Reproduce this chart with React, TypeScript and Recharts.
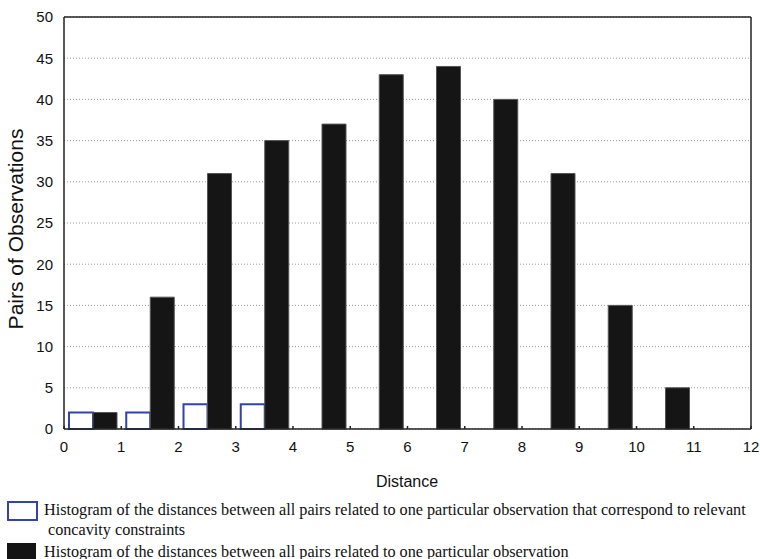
import { BarChart, Bar, XAxis, YAxis, CartesianGrid, Label } from 'recharts';

const binCenters = [0.5, 1.5, 2.5, 3.5, 4.5, 5.5, 6.5, 7.5, 8.5, 9.5, 10.5, 11.5];
const constrainedCounts = [2, 2, 3, 3, 0, 0, 0, 0, 0, 0, 0, 0];
const allCounts = [2, 16, 31, 35, 37, 43, 44, 40, 31, 15, 5, 0];
const xTicks = [0, 1, 2, 3, 4, 5, 6, 7, 8, 9, 10, 11, 12];
const yTicks = [0, 5, 10, 15, 20, 25, 30, 35, 40, 45, 50];

const LEGEND_1 =
  'Histogram of the distances between all pairs related to one particular observation that correspond to relevant';
const LEGEND_1B = 'concavity constraints';
const LEGEND_2 = 'Histogram of the distances between all pairs related to one particular observation';

const data = binCenters.map((x, i) => ({
  x,
  constrained: constrainedCounts[i],
  all: allCounts[i],
}));

const SANS = 'Liberation Sans, Arial, sans-serif';
const SERIF = 'Liberation Serif, Times New Roman, serif';
const AXIS = '#222';

export default function App() {
  return (
    <div style={{ position: 'absolute', left: 0, top: 0, width: 760, height: 559, background: '#fff' }}>
      <BarChart
        width={760}
        height={559}
        data={data}
        barGap={0}
        margin={{ top: 0, right: 0, left: 0, bottom: 0 }}
      >
        <CartesianGrid vertical={false} stroke="#999" strokeDasharray="1 2" />
        <XAxis
          dataKey="x"
          type="number"
          domain={[0, 12]}
          ticks={xTicks}
          interval={0}
          height={130}
          stroke={AXIS}
          strokeWidth={1.5}
          tickSize={-3}
          tickMargin={15}
          tick={{ fontSize: 15, fill: '#111', fontFamily: SANS }}
        >
          <Label
            content={() => (
              <text x={407} y={487} textAnchor="middle" fontSize={16} fill="#111" fontFamily={SANS}>
                Distance
              </text>
            )}
          />
        </XAxis>
        <XAxis
          xAxisId="top"
          orientation="top"
          dataKey="x"
          type="number"
          domain={[0, 12]}
          ticks={xTicks}
          interval={0}
          height={17}
          stroke={AXIS}
          strokeWidth={1.5}
          tickSize={-3}
          tick={false}
        />
        <YAxis
          domain={[0, 50]}
          ticks={yTicks}
          interval={0}
          width={64}
          stroke={AXIS}
          strokeWidth={1.5}
          tickLine={false}
          tickSize={6}
          tickMargin={5}
          tick={{ fontSize: 15, fill: '#111', fontFamily: SANS }}
        >
          <Label
            content={() => (
              <text
                x={15}
                y={229}
                transform="rotate(-90 15 229)"
                textAnchor="middle"
                dominantBaseline="central"
                fontSize={21}
                fill="#111"
                fontFamily={SANS}
              >
                Pairs of Observations
              </text>
            )}
          />
        </YAxis>
        <YAxis
          yAxisId="right"
          orientation="right"
          dataKey="all"
          domain={[0, 50]}
          allowDataOverflow
          ticks={yTicks}
          interval={0}
          width={9}
          stroke={AXIS}
          strokeWidth={1.5}
          tickSize={-3}
          tick={false}
        />
        <Bar
          dataKey="constrained"
          barSize={24}
          fill="#fff"
          stroke="#3343a8"
          strokeWidth={2}
          isAnimationActive={false}
        />
        <Bar
          dataKey="all"
          barSize={24}
          fill="#151515"
          stroke="#555"
          strokeWidth={1}
          isAnimationActive={false}
        />
      </BarChart>

      {/* legend, drawn below the plot as in the source figure */}
      <div
        style={{
          position: 'absolute',
          left: 7,
          top: 501,
          width: 27,
          height: 16,
          border: '2px solid #3343a8',
          background: '#fff',
          boxSizing: 'content-box',
        }}
      />
      <div
        style={{
          position: 'absolute',
          left: 7,
          top: 543,
          width: 29,
          height: 18,
          background: '#151515',
        }}
      />
      <div
        style={{
          position: 'absolute',
          left: 44,
          top: 499.5,
          fontFamily: SERIF,
          fontSize: 16.2,
          lineHeight: '20px',
          color: '#111',
          whiteSpace: 'nowrap',
        }}
      >
        <div>{LEGEND_1}</div>
        <div style={{ paddingLeft: 4 }}>{LEGEND_1B}</div>
        <div style={{ marginTop: 2 }}>{LEGEND_2}</div>
      </div>
    </div>
  );
}
